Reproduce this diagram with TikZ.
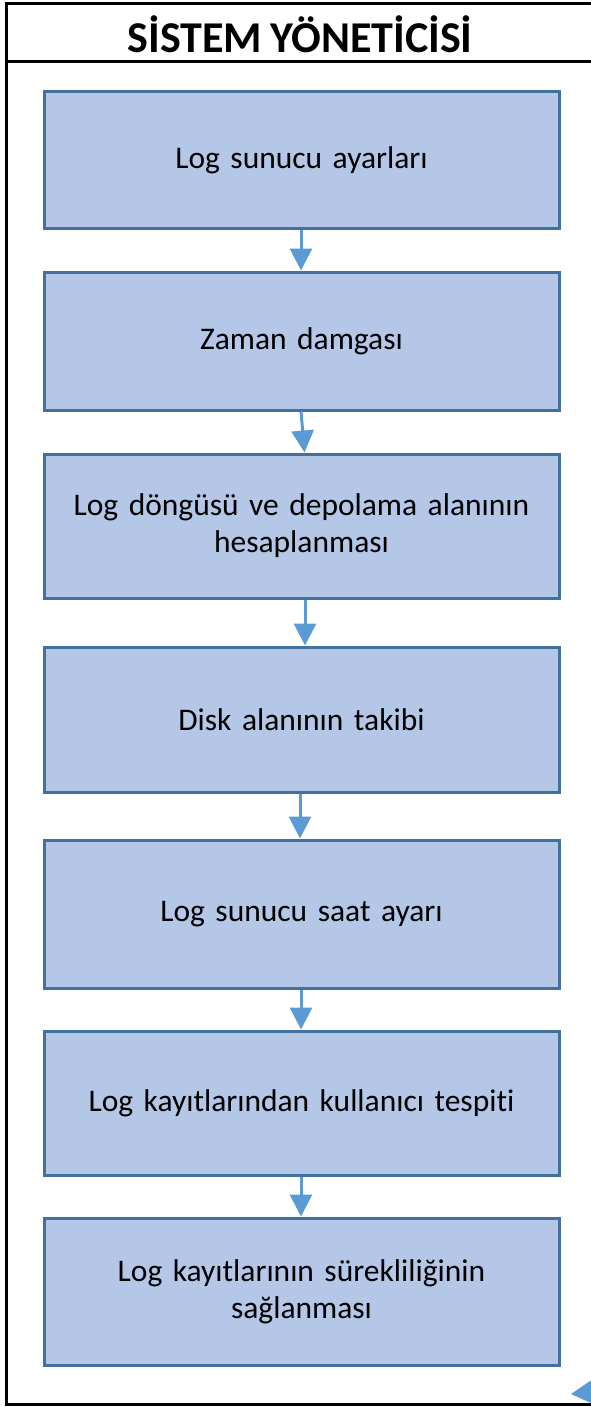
\documentclass[tikz,border=0pt]{standalone}
\usepackage{fontspec}
\setmainfont[Ligatures={NoCommon},WordSpace=0.8]{Carlito}
\usetikzlibrary{arrows.meta}
\definecolor{boxfill}{HTML}{B4C7E7}
\definecolor{boxline}{HTML}{41719C}
\definecolor{arrowc}{HTML}{5B9BD5}
\tikzset{
  stepbox/.style={draw=boxline, line width=3pt, fill=boxfill, minimum width=515pt, inner sep=0pt,
    align=center, font=\fontsize{31.5}{37}\selectfont, text width=505pt},
  flowarrow/.style={draw=arrowc, line width=3pt, -{Triangle[width=22pt,length=22pt]}},
  frame/.style={line width=3pt, black}
}
\begin{document}
\begin{tikzpicture}[x=1pt,y=-1pt]
\useasboundingbox (0,0) rectangle (591,1407);
% frame
\draw[frame] (591,3.2) -- (6,3.2) -- (6,1404.5) -- (591,1404.5);
\draw[frame] (6,62) -- (591,62);
\node[font=\fontsize{44}{50}\bfseries] (title) at (300,34) {SİSTEM YÖNETİCİSİ};
% boxes
\node[stepbox, minimum height=136pt] (b1) at (301.5,160) {Log sunucu ayarları};
\node[stepbox, minimum height=138pt] (b2) at (301.5,341) {Zaman damgası};
\node[stepbox, minimum height=144pt] (b3) at (301.5,526) {Log döngüsü ve depolama alanının\\hesaplanması};
\node[stepbox, minimum height=145pt] (b4) at (301.5,719.5) {Disk alanının takibi};
\node[stepbox, minimum height=148pt] (b5) at (301.5,914) {Log sunucu saat ayarı};
\node[stepbox, minimum height=144pt] (b6) at (301.5,1103) {Log kayıtlarından kullanıcı tespiti};
\node[stepbox, minimum height=147pt] (b7) at (301.5,1291.5) {Log kayıtlarının sürekliliğinin\\sağlanması};
% arrows
\draw[flowarrow] ([xshift=-0.5pt]b1.south) -- ([xshift=-0.5pt]b2.north);
\draw[flowarrow] ([xshift=-0.5pt]b2.south) -- ([xshift=3pt]b3.north);
\draw[flowarrow] ([xshift=3.5pt]b3.south) -- ([xshift=3.5pt]b4.north);
\draw[flowarrow] ([xshift=-1.5pt]b4.south) -- ([xshift=-1.5pt]b5.north);
\draw[flowarrow] ([xshift=-0.5pt]b5.south) -- ([xshift=-0.5pt]b6.north);
\draw[flowarrow] ([xshift=-0.5pt]b6.south) -- ([xshift=-0.5pt]b7.north);
% partial arrowhead at bottom right
\coordinate (tip) at (571,1394);
\fill[arrowc] (tip) -- (590,1381) -- (591,1381) -- (591,1403) -- cycle;
\end{tikzpicture}
\end{document}
